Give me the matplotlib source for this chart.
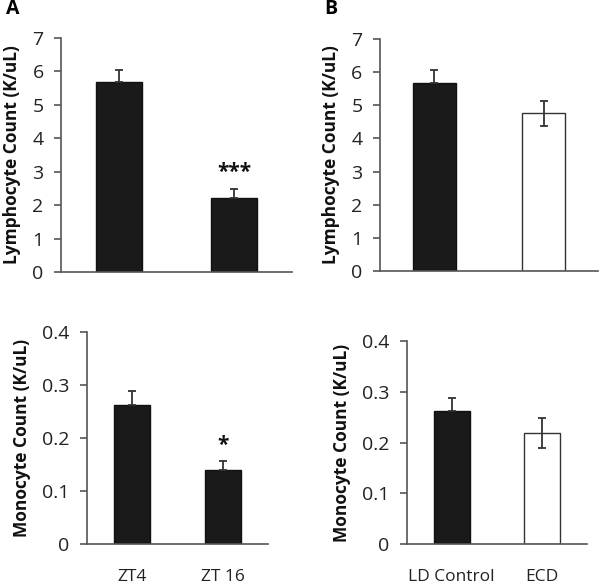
import matplotlib
matplotlib.use("Agg")
import matplotlib.pyplot as plt

plt.rcParams['font.family'] = ['Open Sans', 'DejaVu Sans']

# Data
groups_A = ["ZT4", "ZT 16"]
groups_B = ["LD Control", "ECD"]
lymph_A = [5.67, 2.20]
lymph_A_err = [0.38, 0.27]
lymph_B = [5.67, 4.76]
lymph_B_err = [0.38, 0.38]
mono_A = [0.263, 0.139]
mono_A_err = [0.025, 0.018]
mono_B = [0.262, 0.219]
mono_B_err = [0.026, 0.030]
sig_A_lymph = "***"
sig_A_mono = "*"
lymph_ticks = [0, 1, 2, 3, 4, 5, 6, 7]
mono_ticks = [0, 0.1, 0.2, 0.3, 0.4]
mono_ticklabels = ["0", "0.1", "0.2", "0.3", "0.4"]

fig = plt.figure(figsize=(6, 5.85), dpi=100)

axA1 = fig.add_axes([0.1017, 0.535, 0.385, 0.400])
axB1 = fig.add_axes([0.633, 0.5368, 0.364, 0.3965])
axA2 = fig.add_axes([0.145, 0.070, 0.3017, 0.3625])
axB2 = fig.add_axes([0.678, 0.070, 0.300, 0.347])

spine_col = "#555555"
tick_col = "#222222"
dark = "#1a1a1a"

def style(ax, ticks, labels, ylim, ylabel, xlabels=None):
    for s in ["top", "right"]:
        ax.spines[s].set_visible(False)
    for s in ["left", "bottom"]:
        ax.spines[s].set_color(spine_col)
        ax.spines[s].set_linewidth(1.2)
    ax.set_xlim(-0.5, 1.5)
    ax.set_ylim(*ylim)
    ax.set_yticks(ticks)
    ax.set_yticklabels(labels, fontsize=14, color=tick_col)
    ax.tick_params(axis='y', length=5, width=1.2, color=spine_col, pad=7.5)
    ax.tick_params(axis='x', length=0, pad=18)
    ax.set_ylabel(ylabel, fontsize=12.5, fontweight='bold', color="#111111", labelpad=8)
    if xlabels is None:
        ax.set_xticks([])
    else:
        ax.set_xticks([0, 1])
        ax.set_xticklabels(xlabels, fontsize=12.5, color=tick_col)

def draw(ax, vals, errs, colors, both):
    x = [0, 1]
    ax.bar(x, vals, width=0.4, color=colors, edgecolor=["#111111" if c != "white" else "#333333" for c in colors], linewidth=1.0, zorder=2)
    for i in range(2):
        lo = errs[i] if both[i] else 0
        ax.errorbar([x[i]], [vals[i]], yerr=[[lo], [errs[i]]], fmt='none', ecolor="#333333", elinewidth=1.3, capsize=3, capthick=1.3, zorder=3)

draw(axA1, lymph_A, lymph_A_err, [dark, dark], [False, False])
style(axA1, lymph_ticks, [str(t) for t in lymph_ticks], (0, 7), "Lymphocyte Count (K/uL)")
axA1.text(1, 2.98, sig_A_lymph, ha='center', va='center', fontsize=15, fontweight='bold', color="#111111")

draw(axB1, lymph_B, lymph_B_err, [dark, "white"], [False, True])
style(axB1, lymph_ticks, [str(t) for t in lymph_ticks], (0, 7), "Lymphocyte Count (K/uL)")

draw(axA2, mono_A, mono_A_err, [dark, dark], [False, False])
style(axA2, mono_ticks, mono_ticklabels, (0, 0.4), "Monocyte Count (K/uL)", groups_A)
axA2.text(1, 0.186, sig_A_mono, ha='center', va='center', fontsize=15, fontweight='bold', color="#111111")

draw(axB2, mono_B, mono_B_err, [dark, "white"], [False, True])
style(axB2, mono_ticks, mono_ticklabels, (0, 0.4), "Monocyte Count (K/uL)", groups_B)

fig.text(12.5/600, 1 - 9/585, "A", fontsize=14, fontweight='bold', ha='center', va='center')
fig.text(331/600, 1 - 9/585, "B", fontsize=14, fontweight='bold', ha='center', va='center')

fig.savefig("out.png", dpi=100)
